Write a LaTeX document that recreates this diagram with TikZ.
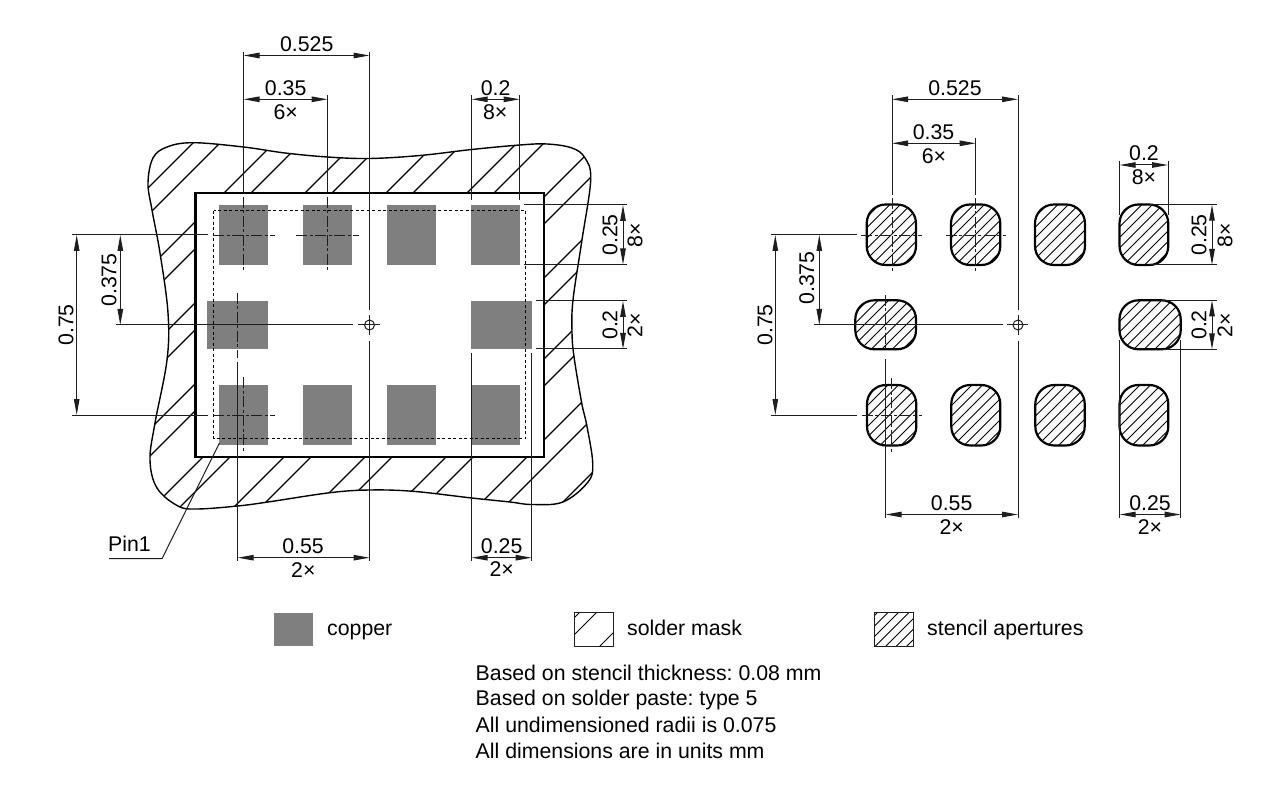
\documentclass[tikz,border=0pt]{standalone}
\usepackage{fontspec}
\setmainfont{Liberation Sans}
\usetikzlibrary{arrows.meta}
\definecolor{coppergray}{RGB}{127,127,127}
\definecolor{dimgray}{RGB}{30,30,30}
\frenchspacing
\newcommand{\MASKPATH}{plot[smooth cycle,tension=.6] coordinates {(193,142.7) (243.5,147) (285,153) (327.6,157) (369.5,158.5) (420,155.5) (471.7,149.5) (520,145) (547,144) (572,148) (585,158) (590.7,180) (581.7,241.7) (573,300) (572,332) (574,356.7) (581.7,403) (586.7,425) (592.7,463) (588,482) (563,502) (531.7,504.5) (510,502) (471.7,498) (413,491.3) (369.5,490) (330,492.7) (268,502) (237.7,506) (197,509) (178,506) (157,488) (150,460) (155,423) (167,360) (168,313) (160,253) (152,210) (148,183) (153,158) (167,147)}}
\newcommand{\APERTURE}[4]{
   \begin{scope}
      \clip[rounded corners=19] (#1,#2) rectangle (#3,#4);
      \foreach \c in {1000,1010.5,...,1700}
         \draw[thinhatch] (\c-150,150) -- (\c-500,500);
   \end{scope}
   \draw[aperture] (#1,#2) rectangle (#3,#4);
}

\begin{document}
\begin{tikzpicture}[x=1pt,y=-1pt,>={Stealth[length=16pt,width=5.5pt,inset=0pt]},
   label/.style={inner sep=0pt,font=\fontsize{21.3}{25}\selectfont},
   copper/.style={fill=coppergray,inner sep=0pt},
   dim/.style={<->,line width=1pt,dimgray},
   ext/.style={line width=1pt,dimgray},
   center/.style={line width=0.9pt,dimgray,dash pattern=on 11pt off 2.5pt on 3pt off 2.5pt},
   aperture/.style={line width=2.2pt,rounded corners=19},
   thinhatch/.style={line width=1pt},
   widehatch/.style={line width=1.2pt}]
   \useasboundingbox (0,0) rectangle (1280,786);

   % solder mask with its hatching
   \begin{scope}
      \clip \MASKPATH;
      \foreach \c in {336,417,...,1065} {
         \draw[widehatch] (\c-100,100) -- (\c-600,600);
         \draw[widehatch] (\c+27-100,100) -- (\c+27-600,600);
      }
   \end{scope}
   \draw[line width=1.4pt] \MASKPATH;
   \fill[white] (195.5,193) rectangle (544,457);

   % copper pads
   \node (padA) at (243.5,235) [copper,minimum width=48.5pt,minimum height=60pt] {};
   \node (padB) at (327.6,235) [copper,minimum width=48.5pt,minimum height=60pt] {};
   \node (padC) at (411.6,235) [copper,minimum width=48.5pt,minimum height=60pt] {};
   \node (padD) at (495.6,235) [copper,minimum width=48.5pt,minimum height=60pt] {};
   \node (padE) at (237.7,325) [copper,minimum width=60.5pt,minimum height=48pt] {};
   \node (padF) at (501.7,325) [copper,minimum width=60.5pt,minimum height=48pt] {};
   \node (padG) at (243.5,415) [copper,minimum width=48.5pt,minimum height=60pt] {};
   \node (padH) at (327.6,415) [copper,minimum width=48.5pt,minimum height=60pt] {};
   \node (padI) at (411.6,415) [copper,minimum width=48.5pt,minimum height=60pt] {};
   \node (padJ) at (495.6,415) [copper,minimum width=48.5pt,minimum height=60pt] {};
   \draw[line width=2.6pt] (195.5,193) rectangle (544,457);
   \draw[line width=1pt,dash pattern=on 3pt off 2.5pt] (213.5,210.7) rectangle (525.7,438.7);

   % left drawing, center lines
   \draw[center] (213,235) -- (275,235);
   \draw[center] (243.5,197) -- (243.5,272);
   \draw[center] (296,235) -- (359,235);
   \draw[center] (327.6,197) -- (327.6,272);
   \draw[center] (237.7,293) -- (237.7,358);
   \draw[center] (213,415) -- (275,415);
   \draw[center] (243.5,377) -- (243.5,452);
   \node (markL) at (369.5,325) [circle,draw,line width=1pt,dimgray,minimum size=10pt,inner sep=0pt] {};
   \draw[ext] (358,325) -- (380,325);
   \draw[ext] (369.5,315) -- (369.5,335);

   % left drawing, extension lines
   \draw[ext] (243.5,52) -- (243.5,192);
   \draw[ext] (327.6,95) -- (327.6,192);
   \draw[ext] (369.5,52) -- (369.5,310);
   \draw[ext] (369.5,341) -- (369.5,561);
   \draw[ext] (471.7,95) -- (471.7,200);
   \draw[ext] (519.7,95) -- (519.7,200);
   \draw[ext] (471.7,353) -- (471.7,561);
   \draw[ext] (531.7,353) -- (531.7,561);
   \draw[ext] (237.7,362) -- (237.7,561);
   \draw[ext] (72,235) -- (208,235);
   \draw[ext] (72,415) -- (208,415);
   \draw[ext] (116,325) -- (353,325);
   \draw[ext] (524,205) -- (627,205);
   \draw[ext] (524,264.5) -- (627,264.5);
   \draw[ext] (536,301) -- (627,301);
   \draw[ext] (536,349) -- (627,349);

   % left drawing, dimensions
   \draw[dim] (243.5,55.5) -- (369.5,55.5);
   \draw[dim] (243.5,99.3) -- (327.6,99.3);
   \draw[dim] (471.7,99.3) -- (519.7,99.3);
   \draw[dim] (237.7,557.7) -- (369.5,557.7);
   \draw[dim] (471.7,557.7) -- (531.7,557.7);
   \draw[dim] (623,205) -- (623,264.5);
   \draw[dim] (623,301) -- (623,349);
   \draw[dim] (76.7,235) -- (76.7,415);
   \draw[dim] (120.3,235) -- (120.3,325);
   \node (pinOne) at (108,551) [label,anchor=base west] {Pin1};
   \coordinate (pinFoot) at (109,558.7);
   \coordinate (pinKnee) at (162,558.7);
   \coordinate (pinTip) at (219.3,443.3);
   \draw[ext] (pinFoot) -- (pinKnee) -- (pinTip);

   \node (wOuterL) at (306.7,44) [label] {0.525};
   \node (wPitchL) at (285.7,88.3) [label] {0.35};
   \node (nPitchL) at (285.7,112) [label] {6×};
   \node (wPadL) at (495.7,88) [label] {0.2};
   \node (nPadL) at (495.2,111.7) [label] {8×};
   \node (wLongL) at (303,546) [label] {0.55};
   \node (nLongL) at (303.3,570) [label] {2×};
   \node (wSideL) at (501.7,546) [label] {0.25};
   \node (nSideL) at (501.7,569.5) [label] {2×};
   \node (hPadL) at (610,235) [label,rotate=90] {0.25};
   \node (nHPadL) at (635,235) [label,rotate=90] {8×};
   \node (hSideL) at (610,325) [label,rotate=90] {0.2};
   \node (nHSideL) at (635,325) [label,rotate=90] {2×};
   \node (hOuterL) at (66,325) [label,rotate=90] {0.75};
   \node (hPitchL) at (109,280) [label,rotate=90] {0.375};

   % right drawing, stencil apertures
   \APERTURE{866.7}{204.5}{916}{265}
   \APERTURE{951}{204.5}{1000.3}{265}
   \APERTURE{1035}{204.5}{1085}{265}
   \APERTURE{1119.5}{204.5}{1168.3}{265}
   \APERTURE{855.3}{300.3}{916}{349.3}
   \APERTURE{1119.5}{300.3}{1180.7}{349.3}
   \APERTURE{867}{385}{916.3}{445.5}
   \APERTURE{951.3}{385}{1000.3}{445.5}
   \APERTURE{1035.3}{385}{1084.7}{445.5}
   \APERTURE{1119.5}{385}{1168.3}{445.5}

   % right drawing, center lines
   \draw[center] (861,235) -- (921.7,235);
   \draw[center] (892,198) -- (892,270.7);
   \draw[center] (945.7,235) -- (1006,235);
   \draw[center] (975.7,198) -- (975.7,270.7);
   \draw[center] (885.7,295) -- (885.7,350);
   \draw[center] (861.7,415) -- (922,415);
   \draw[center] (891.7,378) -- (891.7,452);
   \node (markR) at (1018,325) [circle,draw,line width=1pt,dimgray,minimum size=10pt,inner sep=0pt] {};
   \draw[ext] (1007,325) -- (1028,325);
   \draw[ext] (1018,315) -- (1018,335);

   % right drawing, extension lines
   \draw[ext] (892,95) -- (892,195);
   \draw[ext] (975.7,138) -- (975.7,195);
   \draw[ext] (1018,95) -- (1018,310);
   \draw[ext] (1018,341) -- (1018,518);
   \draw[ext] (1119.7,160.7) -- (1119.7,215);
   \draw[ext] (1168,160.7) -- (1168,215);
   \draw[ext] (1119.7,340) -- (1119.7,518);
   \draw[ext] (1180.7,340) -- (1180.7,518);
   \draw[ext] (885.7,359) -- (885.7,518);
   \draw[ext] (770.7,235) -- (857,235);
   \draw[ext] (770.7,415) -- (857,415);
   \draw[ext] (814,325) -- (1003,325);
   \draw[ext] (1150,204.7) -- (1216.7,204.7);
   \draw[ext] (1150,265) -- (1216.7,265);
   \draw[ext] (1160,300.3) -- (1216.7,300.3);
   \draw[ext] (1160,349.3) -- (1216.7,349.3);

   % right drawing, dimensions
   \draw[dim] (892,99.3) -- (1018,99.3);
   \draw[dim] (892,143.3) -- (975.7,143.3);
   \draw[dim] (1119.7,165) -- (1168,165);
   \draw[dim] (885.7,514.5) -- (1018,514.5);
   \draw[dim] (1119.7,514.5) -- (1180.7,514.5);
   \draw[dim] (1212,204.7) -- (1212,265);
   \draw[dim] (1212,300.3) -- (1212,349.3);
   \draw[dim] (775.3,235) -- (775.3,415);
   \draw[dim] (819.3,235) -- (819.3,325);

   \node (wOuterR) at (955,88.3) [label] {0.525};
   \node (wPitchR) at (933.5,131.7) [label] {0.35};
   \node (nPitchR) at (934,156) [label] {6×};
   \node (wPadR) at (1144,153.3) [label] {0.2};
   \node (nPadR) at (1144,176.7) [label] {8×};
   \node (wLongR) at (951.7,502.7) [label] {0.55};
   \node (nLongR) at (951.7,526.7) [label] {2×};
   \node (wSideR) at (1150,502.7) [label] {0.25};
   \node (nSideR) at (1150,526.7) [label] {2×};
   \node (hPadR) at (1199,235) [label,rotate=90] {0.25};
   \node (nHPadR) at (1225,235) [label,rotate=90] {8×};
   \node (hSideR) at (1199,325) [label,rotate=90] {0.2};
   \node (nHSideR) at (1225,325) [label,rotate=90] {2×};
   \node (hOuterR) at (765,325) [label,rotate=90] {0.75};
   \node (hPitchR) at (806.7,278) [label,rotate=90] {0.375};

   % legend
   \node (keyCopper) at (293.5,629.7) [copper,minimum width=38.5pt,minimum height=33pt] {};
   \node (txtCopper) at (327,635) [label,anchor=base west] {copper};
   \begin{scope}
      \clip (574.3,612.7) rectangle (613.3,646.7);
      \draw[thinhatch] (1192-570,570) -- (1192-650,650);
      \draw[thinhatch] (1209-570,570) -- (1209-650,650);
      \draw[thinhatch] (1246-570,570) -- (1246-650,650);
   \end{scope}
   \node (keyMask) at (593.8,629.7) [draw,line width=1pt,dimgray,minimum width=39pt,minimum height=34pt,inner sep=0pt] {};
   \node (txtMask) at (627,635) [label,anchor=base west] {solder mask};
   \begin{scope}
      \clip (874.3,613) rectangle (913.3,646.5);
      \foreach \c in {1490,1500.5,...,1570}
         \draw[thinhatch] (\c-570,570) -- (\c-650,650);
   \end{scope}
   \node (keyStencil) at (893.8,629.7) [draw,line width=1pt,dimgray,minimum width=39pt,minimum height=33.5pt,inner sep=0pt] {};
   \node (txtStencil) at (927,635) [label,anchor=base west] {stencil apertures};

   % notes
   \node (noteA) at (475.5,680) [label,anchor=base west] {Based on stencil thickness: 0.08 mm};
   \node (noteB) at (475.5,705.7) [label,anchor=base west] {Based on solder paste: type 5};
   \node (noteC) at (475.5,732.3) [label,anchor=base west] {All undimensioned radii is 0.075};
   \node (noteD) at (475.5,758) [label,anchor=base west] {All dimensions are in units mm};
\end{tikzpicture}
\end{document}
